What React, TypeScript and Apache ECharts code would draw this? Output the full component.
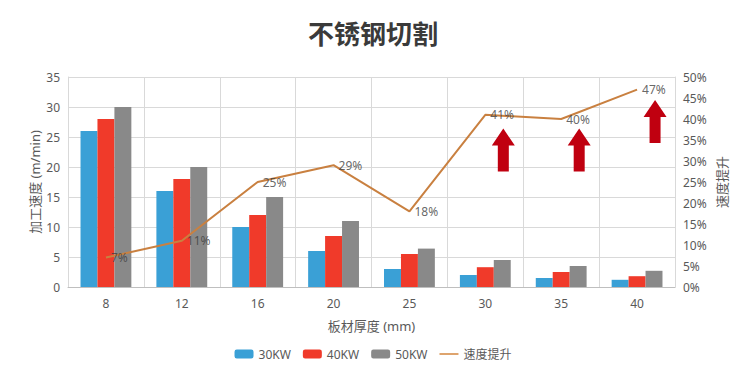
import React, { useEffect, useRef } from "react";
import * as echarts from "echarts";

const categories = ["8", "12", "16", "20", "25", "30", "35", "40"];
const kw30 = [26, 16, 10, 6, 3, 2, 1.5, 1.2];
const kw40 = [28, 18, 12, 8.5, 5.5, 3.3, 2.5, 1.8];
const kw50 = [30, 20, 15, 11, 6.4, 4.5, 3.5, 2.7];
const speedUp = [7, 11, 25, 29, 18, 41, 40, 47];
const arrowCats = ["30", "35", "40"];
const arrowLevels = [32.6, 32.6, 39.4];

const FONT = '"Noto Sans", "Noto Sans CJK SC", sans-serif';
const ARROW =
  "path://M11.5,0 L23,17 L17,17 L17,43 L6,43 L6,17 L0,17 Z";
const LINE_ICON =
  "path://M0,0 L0.01,0 L0.01,9 L0,9 Z M0,3.8 L19,3.8 L19,5.2 L0,5.2 Z";

export default function App() {
  const ref = useRef<HTMLDivElement>(null);
  useEffect(() => {
    if (!ref.current) return;
    const chart = echarts.init(ref.current, null, { renderer: "svg" });
    const labelColor = "#595959";
    chart.setOption({
      animation: false,
      backgroundColor: "#ffffff",
      textStyle: { fontFamily: FONT },
      title: {
        text: "不锈钢切割",
        left: "center",
        top: 14,
        textStyle: {
          fontFamily: '"Noto Sans CJK SC", sans-serif',
          fontSize: 26,
          fontWeight: "bold",
          color: "#3a3a3a",
        },
      },
      legend: {
        data: [
          "30KW",
          "40KW",
          "50KW",
          { name: "速度提升", icon: LINE_ICON },
        ],
        left: "center",
        top: 343,
        itemWidth: 19,
        itemHeight: 9,
        itemGap: 12,
        textStyle: { color: labelColor, fontSize: 12, fontFamily: FONT },
      },
      grid: { left: 68, right: 71, top: 77, bottom: 99 },
      xAxis: {
        type: "category",
        data: categories,
        name: "板材厚度 (mm)",
        nameLocation: "middle",
        nameGap: 32,
        nameTextStyle: { color: labelColor, fontSize: 13 },
        axisTick: { show: false },
        axisLine: { lineStyle: { color: "#bfbfbf" } },
        axisLabel: { color: labelColor, fontSize: 12, margin: 10 },
        splitLine: { show: true, lineStyle: { color: "#d9d9d9" } },
      },
      yAxis: [
        {
          type: "value",
          min: 0,
          max: 35,
          interval: 5,
          name: "加工速度 (m/min)",
          nameLocation: "middle",
          nameRotate: 90,
          nameGap: 27,
          nameMoveOverlap: false,
          nameTextStyle: { color: labelColor, fontSize: 13 },
          axisLine: { show: true, lineStyle: { color: "#d9d9d9" } },
          axisTick: { show: false },
          axisLabel: { color: labelColor, fontSize: 12, margin: 8 },
          splitLine: { show: true, lineStyle: { color: "#d9d9d9" } },
        },
        {
          type: "value",
          min: 0,
          max: 50,
          interval: 5,
          name: "速度提升",
          nameLocation: "middle",
          nameRotate: 90,
          nameGap: 40,
          nameMoveOverlap: false,
          nameTextStyle: { color: labelColor, fontSize: 13 },
          axisLine: { show: true, lineStyle: { color: "#d9d9d9" } },
          axisTick: { show: false },
          axisLabel: {
            color: labelColor,
            fontSize: 12,
            margin: 8,
            formatter: "{value}%",
          },
          splitLine: { show: false },
        },
      ],
      series: [
        {
          name: "30KW",
          type: "bar",
          data: kw30,
          barGap: "0%",
          barCategoryGap: "33%",
          itemStyle: { color: "#3aa0d6" },
        },
        {
          name: "40KW",
          type: "bar",
          data: kw40,
          itemStyle: { color: "#f03a2a" },
        },
        {
          name: "50KW",
          type: "bar",
          data: kw50,
          itemStyle: { color: "#898989" },
        },
        {
          name: "速度提升",
          type: "line",
          yAxisIndex: 1,
          data: speedUp,
          symbol: "none",
          itemStyle: { color: "#d4873f" },
          lineStyle: { color: "#c98040", width: 2 },
          z: 5,
        },
        {
          name: "speedLabels",
          type: "scatter",
          yAxisIndex: 1,
          data: speedUp,
          symbol: "circle",
          symbolSize: 0.1,
          itemStyle: { color: "rgba(0,0,0,0)" },
          label: {
            show: true,
            position: "right",
            distance: 5,
            formatter: "{c}%",
            color: "#404040",
            fontSize: 12,
          },
          silent: true,
          z: 7,
        },
        {
          name: "arrows",
          type: "scatter",
          yAxisIndex: 1,
          data: arrowCats.map((c, i) => [c, arrowLevels[i]]),
          symbol: ARROW,
          symbolSize: [23, 43],
          symbolOffset: [18, 0],
          itemStyle: { color: "#c00010", opacity: 1 },
          silent: true,
          z: 6,
        },
      ],
    });
    return () => chart.dispose();
  }, []);
  return (
    <div
      ref={ref}
      style={{ position: "fixed", left: 0, top: 0, width: 746, height: 386 }}
    />
  );
}
